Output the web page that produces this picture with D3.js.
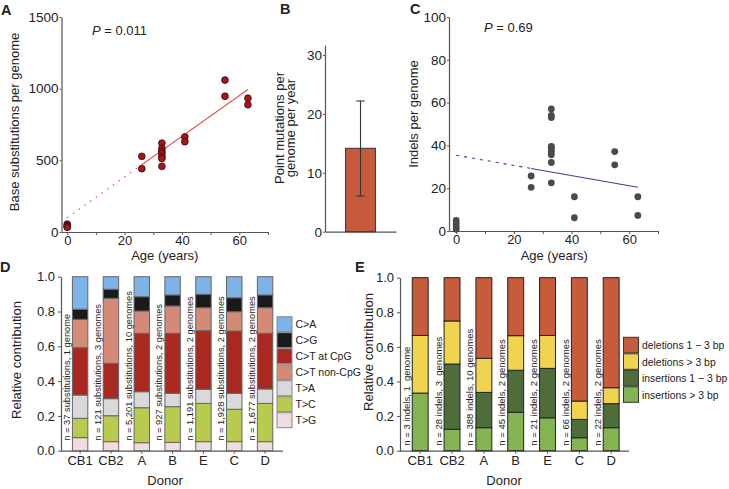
<!DOCTYPE html>
<html>
<head>
<meta charset="utf-8">
<script src="https://cdn.jsdelivr.net/npm/d3@7"></script>
<style>
  body { margin: 0; background: #fff; }
  svg text { font-family: "Liberation Sans", Arial, Helvetica, sans-serif; fill: #222; }
</style>
</head>
<body>
<svg id="fig" width="729" height="489"></svg>
<script>
// ---- Panel A : base substitutions vs age
const agesA = [0, 0, 0, 0, 26, 26, 33, 33, 33, 33, 33, 33, 33, 41, 41, 55, 55, 63, 63];
const subsA = [55, 45, 37, 33, 528, 442, 620, 582, 562, 548, 525, 512, 458, 663, 630, 1060, 947, 933, 888];
const fitA = [100, 14.2];          // intercept, slope
const fitAgesA = [0, 26, 63];      // dotted start, solid start, end
const yTicksA = [0, 500, 1000, 1500];

// ---- Panel B : mutation rate
const rateB = [14.16];
const rateErrB = [6.06, 22.2];
const yTicksB = [0, 10, 20, 30];

// ---- Panel C : indels vs age
const agesC = [0, 0, 0, 0, 26, 26, 33, 33, 33, 33, 33, 33, 33, 33, 33, 33, 41, 41, 55, 55, 63, 63];
const indelsC = [5, 3.5, 2, 0.8, 25.7, 20.4, 57, 54, 53, 39.5, 39.2, 38, 37, 35.6, 32, 22.5, 16, 6.2, 37.1, 30.9, 16, 7.3];
const fitC = [35.4, -0.238];
const fitAgesC = [0, 26, 63];
const yTicksC = [0, 20, 40, 60, 80, 100];
const ageTicks = [0, 10, 20, 30, 40, 50, 60, 70];

// ---- Panel D : substitution spectra per donor
const donors = ['CB1', 'CB2', 'A', 'B', 'E', 'C', 'D'];
const tgFrac       = [0.075, 0.052, 0.046, 0.048, 0.052, 0.052, 0.052];
const tcFrac       = [0.111, 0.149, 0.201, 0.205, 0.220, 0.186, 0.220];
const taFrac       = [0.134, 0.098, 0.092, 0.077, 0.081, 0.092, 0.083];
const ctCpgFrac    = [0.272, 0.203, 0.336, 0.345, 0.337, 0.358, 0.320];
const ctNonCpgFrac = [0.163, 0.374, 0.128, 0.157, 0.132, 0.111, 0.147];
const cgFrac       = [0.058, 0.052, 0.082, 0.063, 0.077, 0.080, 0.073];
const caFrac       = [0.187, 0.072, 0.115, 0.105, 0.101, 0.121, 0.105];
const subLabels = ['n = 37 substitutions, 1 genome', 'n = 121 substitutions, 3 genomes',
  'n = 5,201 substitutions, 10 genomes', 'n = 927 substitutions, 2 genomes',
  'n = 1,191 substitutions, 2 genomes', 'n = 1,928 substitutions, 2 genomes',
  'n = 1,677 substitutions, 2 genomes'];
const subLegend = ['C>A', 'C>G', 'C>T at CpG', 'C>T non-CpG', 'T>A', 'T>C', 'T>G'];

// ---- Panel E : indel spectra per donor
const insLongFrac  = [0.333, 0.124, 0.133, 0.222, 0.190, 0.075, 0.133];
const insShortFrac = [0.000, 0.377, 0.204, 0.243, 0.286, 0.106, 0.139];
const delLongFrac  = [0.333, 0.249, 0.197, 0.200, 0.190, 0.106, 0.092];
const delShortFrac = [0.334, 0.250, 0.466, 0.335, 0.334, 0.713, 0.636];
const indelLabels = ['n = 3 indels, 1  genome', 'n = 28 indels, 3  genomes',
  'n = 388 indels, 10 genomes', 'n = 45 indels, 2 genomes', 'n = 21 indels, 2 genomes',
  'n = 66 indels, 2 genomes', 'n = 22 indels, 2 genomes'];
const indelLegend = ['deletions 1 \u2212 3 bp', 'deletions > 3 bp', 'insertions 1 \u2212 3 bp', 'insertions > 3 bp'];
const relTicks = [0, 0.2, 0.4, 0.6, 0.8, 1.0];

const AXIS = '#555';
const svg = d3.select('#fig');

function styleAxis(g, fs) {
  g.select('.domain').attr('stroke', AXIS).attr('stroke-width', 1.2);
  g.selectAll('.tick line').attr('stroke', AXIS);
  g.selectAll('.tick text').style('font-size', fs + 'px').attr('fill', '#222');
}

function label(x, y, txt, opts = {}) {
  const t = svg.append('text')
    .attr('transform', `translate(${x},${y})` + (opts.rot ? ` rotate(${opts.rot})` : ''))
    .attr('text-anchor', opts.anchor || 'middle')
    .style('font-size', (opts.size || 13) + 'px')
    .style('font-weight', opts.bold ? 'bold' : null)
    .style('white-space', 'pre')
    .text(txt);
  if (opts.fill) t.attr('fill', opts.fill);
  return t;
}

function pValue(x, y, val) {
  const t = svg.append('text').attr('x', x).attr('y', y).style('font-size', '13px');
  t.append('tspan').style('font-style', 'italic').text('P');
  t.append('tspan').text(' = ' + val);
}

// ================= A =================
const xA = d3.scaleLinear().domain([-2, 70]).range([61.5, 268]);
const yA = d3.scaleLinear().domain([0, 1500]).range([232, 17]);
svg.append('g').attr('transform', `translate(0,${yA(0)})`)
  .call(d3.axisBottom(xA).tickValues(ageTicks).tickSize(3).tickSizeOuter(0).tickPadding(0.5)
    .tickFormat(d => d % 20 === 0 ? d : ''))
  .call(g => styleAxis(g, 13));
svg.append('g').attr('transform', `translate(${xA(-2)},0)`)
  .call(d3.axisLeft(yA).tickValues(yTicksA).tickFormat(d3.format('d')).tickSize(2).tickSizeOuter(0).tickPadding(1))
  .call(g => styleAxis(g, 13.5));

const lineA = d3.line().x(d => xA(d)).y(d => yA(fitA[0] + fitA[1] * d));
svg.append('path').attr('d', lineA(fitAgesA.slice(0, 2))).attr('fill', 'none')
  .attr('stroke', '#e05656').attr('stroke-width', 1.2).attr('stroke-dasharray', '1.5,5.5');
svg.append('path').attr('d', lineA(fitAgesA.slice(1))).attr('fill', 'none')
  .attr('stroke', '#e05656').attr('stroke-width', 1.1);
svg.append('g').selectAll('circle').data(agesA).join('circle')
  .attr('cx', d => xA(d)).attr('cy', (d, i) => yA(subsA[i])).attr('r', 3.4)
  .attr('fill', '#a3161b').attr('stroke', '#3a0808').attr('stroke-width', 0.8);

pValue(92, 35, '0.011');
label(19, 122, 'Base substitutions per genome', { rot: -90 });
label(xA(34), 259.5, 'Age (years)');
label(1, 15, 'A', { anchor: 'start', bold: true, size: 14.5 });

// ================= B =================
const xB = d3.scaleBand().domain(['rate']).range([325, 396]).paddingInner(0.58).paddingOuter(0.29);
const yB = d3.scaleLinear().domain([0, 31.7]).range([231.7, 45]);
svg.append('g').attr('transform', `translate(0,${yB(0)})`)
  .call(d3.axisBottom(xB).tickSize(0).tickSizeOuter(0).tickFormat(''))
  .call(g => styleAxis(g, 13));
svg.append('g').attr('transform', `translate(325,0)`)
  .call(d3.axisLeft(yB).tickValues(yTicksB).tickSize(2).tickSizeOuter(0).tickPadding(1))
  .call(g => styleAxis(g, 13.5));
svg.append('rect').attr('x', xB('rate')).attr('width', xB.bandwidth())
  .attr('y', yB(rateB[0])).attr('height', yB(0) - yB(rateB[0]))
  .attr('fill', '#c65a3e').attr('stroke', '#333').attr('stroke-width', 1);
const cxB = xB('rate') + xB.bandwidth() / 2;
svg.append('line').attr('x1', cxB).attr('x2', cxB).attr('y1', yB(rateErrB[0])).attr('y2', yB(rateErrB[1]))
  .attr('stroke', '#333').attr('stroke-width', 1.1);
rateErrB.forEach(v => svg.append('line').attr('x1', cxB - 4.2).attr('x2', cxB + 4.2)
  .attr('y1', yB(v)).attr('y2', yB(v)).attr('stroke', '#333').attr('stroke-width', 1.1));
label(284, 128, 'Point mutations per', { rot: -90 });
label(295, 128, 'genome per year', { rot: -90 });
label(280, 13.5, 'B', { anchor: 'start', bold: true, size: 14.5 });

// ================= C =================
const xC = d3.scaleLinear().domain([-2.5, 70]).range([449, 658]);
const yC = d3.scaleLinear().domain([0, 100]).range([231, 17]);
svg.append('g').attr('transform', `translate(0,${yC(0)})`)
  .call(d3.axisBottom(xC).tickValues(ageTicks).tickSize(3).tickSizeOuter(0).tickPadding(0.5)
    .tickFormat(d => d % 20 === 0 ? d : ''))
  .call(g => styleAxis(g, 13));
svg.append('g').attr('transform', `translate(${xC(-2.5)},0)`)
  .call(d3.axisLeft(yC).tickValues(yTicksC).tickSize(2).tickSizeOuter(0).tickPadding(1))
  .call(g => styleAxis(g, 13.5));
const lineC = d3.line().x(d => xC(d)).y(d => yC(fitC[0] + fitC[1] * d));
svg.append('path').attr('d', lineC(fitAgesC.slice(0, 2))).attr('fill', 'none')
  .attr('stroke', '#3d3d8f').attr('stroke-width', 1.1).attr('stroke-dasharray', '3,5');
svg.append('path').attr('d', lineC(fitAgesC.slice(1))).attr('fill', 'none')
  .attr('stroke', '#3d3d8f').attr('stroke-width', 1.1);
svg.append('g').selectAll('circle').data(agesC).join('circle')
  .attr('cx', d => xC(d)).attr('cy', (d, i) => yC(indelsC[i])).attr('r', 3.4)
  .attr('fill', '#4a4a4a');
pValue(484, 32, '0.69');
label(418, 114, 'Indels per genome', { rot: -90 });
label(xC(34), 259.5, 'Age (years)');
label(410, 14, 'C', { anchor: 'start', bold: true, size: 14.5 });

// ============ stacked bar helper (D, E) ============
function stackedPanel(opt) {
  const x = d3.scaleBand().domain(donors).range(opt.xr).paddingInner(0.5).paddingOuter(0.25);
  const y = d3.scaleLinear().domain([0, 1]).range([450.7, opt.yTop]);
  const rows = donors.map((d, i) => {
    const r = { donor: d };
    opt.keys.forEach((k, j) => { r[k] = opt.series[j][i]; });
    return r;
  });
  const stacked = d3.stack().keys(opt.keys)(rows);

  svg.append('g').attr('transform', `translate(0,${y(0)})`)
    .call(d3.axisBottom(x).tickSize(3).tickSizeOuter(0).tickPadding(2.3))
    .call(g => styleAxis(g, 13))
    .call(g => g.select('.domain').attr('d', `M${opt.axisX},0.5H${opt.axisEnd}`));
  svg.append('g').attr('transform', `translate(${opt.axisX},0)`)
    .call(d3.axisLeft(y).tickValues(relTicks).tickFormat(d3.format('.1f')).tickSize(3).tickSizeOuter(0).tickPadding(3))
    .call(g => styleAxis(g, 13));

  svg.append('g').selectAll('g').data(stacked).join('g')
    .attr('fill', (s, i) => opt.colors[i])
    .selectAll('rect').data(s => s).join('rect')
    .attr('x', d => x(d.data.donor)).attr('width', x.bandwidth())
    .attr('y', d => y(d[1])).attr('height', d => y(d[0]) - y(d[1]))
    .attr('stroke', opt.stroke).attr('stroke-width', 1);

  svg.append('g').selectAll('text').data(opt.labels).join('text')
    .attr('transform', (t, i) => `translate(${x(donors[i]) - 2.5},${y(0) - opt.labelLift}) rotate(-90)`)
    .style('font-size', opt.labelSize + 'px').style('white-space', 'pre')
    .attr('fill', '#333')
    .text(t => t);

  // legend (top entry = last stacked key)
  const lg = svg.append('g').attr('transform', `translate(${opt.legX},${opt.legY})`);
  opt.legend.forEach((txt, i) => {
    const ci = opt.legendColor[i];
    lg.append('rect').attr('x', 0).attr('y', i * opt.legStep).attr('width', 15).attr('height', opt.legStep - 1)
      .attr('fill', opt.colors[ci]).attr('stroke', opt.legStroke).attr('stroke-width', 1);
    lg.append('text').attr('x', 18.5).attr('y', i * opt.legStep + opt.legStep / 2 + 3.8)
      .style('font-size', opt.legSize + 'px').text(txt);
  });
  return { x, y };
}

// ================= D =================
stackedPanel({
  xr: [64.7, 280.5], yTop: 276.7, axisX: 61, axisEnd: 283,
  keys: ['tg', 'tc', 'ta', 'cpg', 'noncpg', 'cg', 'ca'],
  series: [tgFrac, tcFrac, taFrac, ctCpgFrac, ctNonCpgFrac, cgFrac, caFrac],
  colors: ['#f0dcdc', '#b8cb4f', '#d9d9d9', '#a9281f', '#d38b78', '#1a1a1a', '#7db3e6'],
  stroke: '#666', labels: subLabels, labelSize: 9.3, labelLift: 10,
  legend: subLegend, legendColor: [6, 5, 3, 4, 2, 1, 0],
  legX: 277, legY: 316.7, legStep: 16, legSize: 10.5, legStroke: '#888'
});
label(20.5, 360, 'Relative contribution', { rot: -90 });
label(165, 484.5, 'Donor');
label(0, 272, 'D', { anchor: 'start', bold: true, size: 14.5 });

// ================= E =================
stackedPanel({
  xr: [404.3, 627.1], yTop: 277.7, axisX: 400, axisEnd: 629,
  keys: ['insLong', 'insShort', 'delLong', 'delShort'],
  series: [insLongFrac, insShortFrac, delLongFrac, delShortFrac],
  colors: ['#82b551', '#4e6d3b', '#f0d34f', '#c75c3a'],
  stroke: '#222', labels: indelLabels, labelSize: 9.5, labelLift: 5,
  legend: indelLegend, legendColor: [3, 2, 1, 0],
  legX: 623.5, legY: 337.3, legStep: 16.5, legSize: 10.4, legStroke: '#333'
});
label(372.5, 352, 'Relative contribution', { rot: -90 });
label(504, 484.5, 'Donor');
label(355, 271.5, 'E', { anchor: 'start', bold: true, size: 14.5 });
</script>
</body>
</html>
